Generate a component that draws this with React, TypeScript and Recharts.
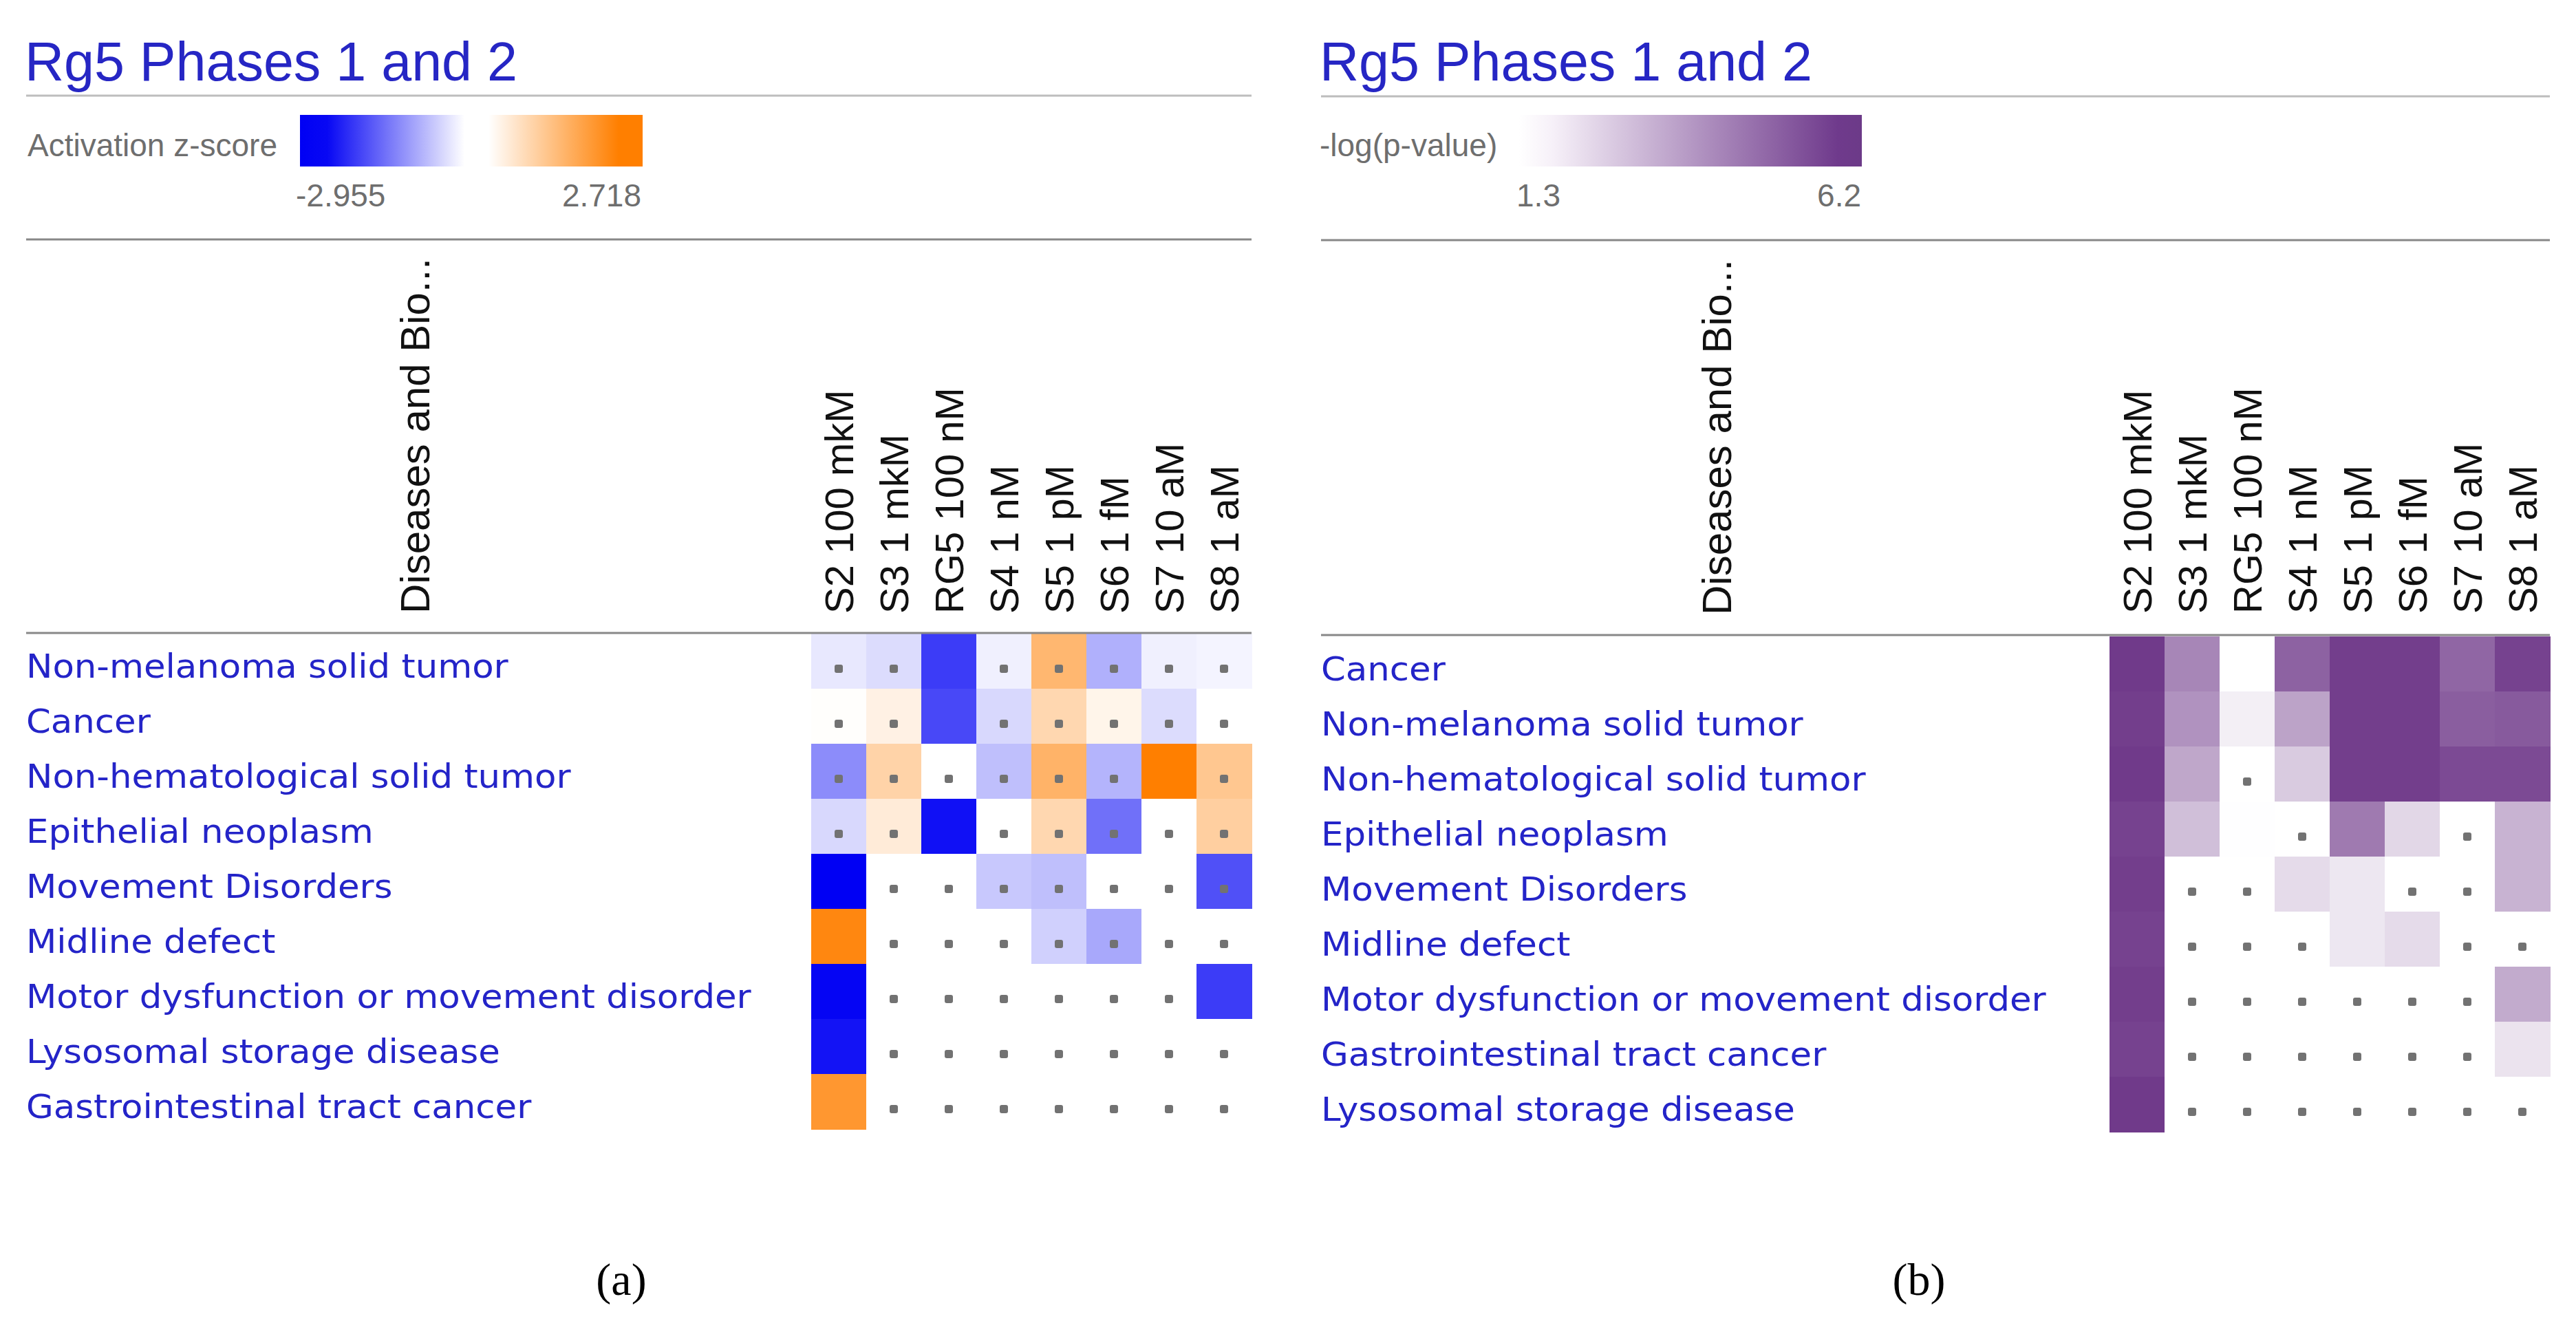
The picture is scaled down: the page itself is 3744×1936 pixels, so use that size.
import React from 'react';
import { ScatterChart, Scatter, XAxis, YAxis } from 'recharts';

// sample columns (same for both heatmaps)
const columns = ['S2 100 mkM', 'S3 1 mkM', 'RG5 100 nM', 'S4 1 nM', 'S5 1 pM', 'S6 1 fM', 'S7 10 aM', 'S8 1 aM'];

// (a) activation z-score
const rowsA = [
  'Non-melanoma solid tumor',
  'Cancer',
  'Non-hematological solid tumor',
  'Epithelial neoplasm',
  'Movement Disorders',
  'Midline defect',
  'Motor dysfunction or movement disorder',
  'Lysosomal storage disease',
  'Gastrointestinal tract cancer',
];
const zScores = [
  [-0.27, -0.41, -2.26, -0.17, 1.52, -0.92, -0.17, -0.13],
  [0.03, 0.29, -2.12, -0.45, 0.84, 0.22, -0.41, 0],
  [-1.33, 0.93, 0, -0.74, 1.61, -0.87, 2.718, 1.18],
  [-0.45, 0.42, -2.77, 0, 0.84, -1.66, 0, 1.01],
  [-2.955, 0, 0, -0.64, -0.74, 0, 0, -2.03],
  [2.55, 0, 0, 0, -0.54, -1.01, 0, 0],
  [-2.9, 0, 0, 0, 0, 0, 0, -2.26],
  [-2.73, 0, 0, 0, 0, 0, 0, 0],
  [2.21, 0, 0, 0, 0, 0, 0, 0],
];
const zDots = [
  [1, 1, 0, 1, 1, 1, 1, 1],
  [1, 1, 0, 1, 1, 1, 1, 1],
  [1, 1, 1, 1, 1, 1, 0, 1],
  [1, 1, 0, 1, 1, 1, 1, 1],
  [0, 1, 1, 1, 1, 1, 1, 1],
  [0, 1, 1, 1, 1, 1, 1, 1],
  [0, 1, 1, 1, 1, 1, 1, 0],
  [0, 1, 1, 1, 1, 1, 1, 1],
  [0, 1, 1, 1, 1, 1, 1, 1],
];
const zRange = [-2.955, 2.718];
const zTickLabels = ['-2.955', '2.718'];

// (b) -log(p-value), null = not significant (dot)
const rowsB = [
  'Cancer',
  'Non-melanoma solid tumor',
  'Non-hematological solid tumor',
  'Epithelial neoplasm',
  'Movement Disorders',
  'Midline defect',
  'Motor dysfunction or movement disorder',
  'Gastrointestinal tract cancer',
  'Lysosomal storage disease',
];
const logP = [
  [6.2, 4.3, 1.3, 5.2, 6.1, 6.1, 5.1, 6.0],
  [6.1, 4.0, 1.7, 3.6, 6.1, 6.1, 5.3, 5.4],
  [6.2, 3.5, null, 2.6, 6.1, 6.1, 5.8, 5.8],
  [6.0, 2.9, 1.32, null, 4.6, 2.3, null, 3.2],
  [6.1, null, null, 2.2, 1.9, null, null, 3.2],
  [6.0, null, null, null, 1.9, 2.2, null, null],
  [6.1, null, null, null, null, null, null, 3.4],
  [6.0, null, null, null, null, null, null, 2.0],
  [6.2, null, null, null, null, null, null, null],
];
const pRange = [1.3, 6.2];
const pTickLabels = ['1.3', '6.2'];

const WHITE = [255, 255, 255];
const BLUE = [0, 0, 244];
const ORANGE = [255, 127, 0];
const PURPLE = [112, 58, 138];

const mix = (a: number[], b: number[], t: number) => {
  const k = Math.max(0, Math.min(1, t));
  return 'rgb(' + a.map((v, i) => Math.round(v + (b[i] - v) * k)).join(',') + ')';
};
const zColor = (z: number) => (z < 0 ? mix(WHITE, BLUE, z / zRange[0]) : mix(WHITE, ORANGE, z / zRange[1]));
const pColor = (v: number | null) => (v == null ? '#ffffff' : mix(WHITE, PURPLE, (v - pRange[0]) / (pRange[1] - pRange[0])));

type Cell = { x: number; y: number; fill: string; dot: boolean };

const cellsA: Cell[] = zScores.flatMap((row, i) =>
  row.map((z, j) => ({ x: j + 0.5, y: i + 0.5, fill: zColor(z), dot: zDots[i][j] === 1 }))
);
const cellsB: Cell[] = logP.flatMap((row, i) =>
  row.map((v, j) => ({ x: j + 0.5, y: i + 0.5, fill: pColor(v), dot: v == null }))
);

const SANS = 'Liberation Sans, Arial, sans-serif';
const LABEL_FONT = 'DejaVu Sans, sans-serif';

const makeShape = (cw: number, ch: number) => (props: any) => {
  const { cx, cy, payload } = props;
  return (
    <g>
      <rect x={cx - cw / 2} y={cy - ch / 2} width={cw + 0.5} height={ch + 0.5} fill={payload.fill} shapeRendering="crispEdges" />
      {payload.dot && <rect x={cx - 6} y={cy + 5} width={12} height={12} rx={3} fill="#727272" />}
    </g>
  );
};

interface PanelProps {
  left: number;
  width: number;
  height: number;
  axisTop: number;
  yAxisWidth: number;
  rightM: number;
  bottomM: number;
  labelX: number;
  rows: string[];
  cells: Cell[];
}

const HeatPanel = ({ left, width, height, axisTop, yAxisWidth, rightM, bottomM, labelX, rows, cells }: PanelProps) => {
  const cw = (width - yAxisWidth - rightM) / columns.length;
  const ch = (height - axisTop - bottomM) / rows.length;
  return (
    <div style={{ position: 'absolute', left, top: 0 }}>
      <ScatterChart width={width} height={height} margin={{ top: 0, right: rightM, bottom: bottomM, left: 0 }}>
        <XAxis
          type="number"
          dataKey="x"
          orientation="top"
          domain={[0, columns.length]}
          ticks={columns.map((_, i) => i + 0.5)}
          interval={0}
          height={axisTop}
          axisLine={false}
          tickLine={false}
          tick={(p: any) => (
            <text
              transform={`translate(${p.x + 21}, 892) rotate(-90)`}
              fontFamily={SANS}
              fontSize={58}
              fill="#111"
              textAnchor="start"
            >
              {columns[Math.floor(p.payload.value)]}
            </text>
          )}
        />
        <YAxis
          type="number"
          dataKey="y"
          domain={[0, rows.length]}
          reversed
          ticks={rows.map((_, i) => i + 0.5)}
          interval={0}
          width={yAxisWidth}
          axisLine={false}
          tickLine={false}
          tick={(p: any) => (
            <text
              transform={`translate(${labelX}, ${p.y + 24}) scale(1.07, 1)`}
              fontFamily={LABEL_FONT}
              fontSize={48}
              fill="#2424c8"
              textAnchor="start"
            >
              {rows[Math.floor(p.payload.value)]}
            </text>
          )}
        />
        <Scatter data={cells} shape={makeShape(cw, ch)} isAnimationActive={false} />
      </ScatterChart>
    </div>
  );
};

const Decor = () => (
  <svg width={3744} height={1936} style={{ position: 'absolute', left: 0, top: 0, pointerEvents: 'none' }}>
    <defs>
      <linearGradient id="zGrad" x1="0" x2="1" y1="0" y2="0">
        <stop offset="0" stopColor="#0000f4" />
        <stop offset="0.08" stopColor="#0808f4" />
        <stop offset="0.48" stopColor="#ffffff" />
        <stop offset="0.55" stopColor="#ffffff" />
        <stop offset="0.93" stopColor="#ff7f00" />
        <stop offset="1" stopColor="#ff7f00" />
      </linearGradient>
      <linearGradient id="pGrad" x1="0" x2="1" y1="0" y2="0">
        <stop offset="0" stopColor="#ffffff" />
        <stop offset="0.1" stopColor="#f6f0f8" />
        <stop offset="0.93" stopColor="#6f3a8c" />
        <stop offset="1" stopColor="#6c3a88" />
      </linearGradient>
    </defs>

    {/* panel (a) */}
    <text x={36} y={117} fontFamily={SANS} fontSize={79} fill="#2626c4">Rg5 Phases 1 and 2</text>
    <line x1={38} x2={1819} y1={139} y2={139} stroke="#bdbdbd" strokeWidth={3} />
    <text x={40} y={227} fontFamily={SANS} fontSize={46} fill="#6e6e6e">Activation z-score</text>
    <rect x={436} y={167} width={498} height={75} fill="url(#zGrad)" />
    <text x={430} y={300} fontFamily={SANS} fontSize={46} fill="#6e6e6e">{zTickLabels[0]}</text>
    <text x={932} y={300} fontFamily={SANS} fontSize={46} fill="#6e6e6e" textAnchor="end">{zTickLabels[1]}</text>
    <line x1={38} x2={1819} y1={348} y2={348} stroke="#888" strokeWidth={3} />
    <text transform="translate(624, 892) rotate(-90)" fontFamily={SANS} fontSize={60} fill="#111">Diseases and Bio...</text>
    <line x1={38} x2={1819} y1={920} y2={920} stroke="#888" strokeWidth={3} />
    <text x={903} y={1882} fontFamily="Liberation Serif, Times New Roman, serif" fontSize={66} fill="#000" textAnchor="middle">(a)</text>

    {/* panel (b) */}
    <text x={1918} y={117} fontFamily={SANS} fontSize={79} fill="#2626c4">Rg5 Phases 1 and 2</text>
    <line x1={1920} x2={3706} y1={140} y2={140} stroke="#bdbdbd" strokeWidth={3} />
    <text x={1918} y={227} fontFamily={SANS} fontSize={46} fill="#6e6e6e">-log(p-value)</text>
    <rect x={2208} y={167} width={498} height={75} fill="url(#pGrad)" />
    <text x={2236} y={300} fontFamily={SANS} fontSize={46} fill="#6e6e6e" textAnchor="middle">{pTickLabels[0]}</text>
    <text x={2705} y={300} fontFamily={SANS} fontSize={46} fill="#6e6e6e" textAnchor="end">{pTickLabels[1]}</text>
    <line x1={1920} x2={3706} y1={349} y2={349} stroke="#888" strokeWidth={3} />
    <text transform="translate(2516, 894) rotate(-90)" fontFamily={SANS} fontSize={60} fill="#111">Diseases and Bio...</text>
    <line x1={1920} x2={3706} y1={923} y2={923} stroke="#888" strokeWidth={3} />
    <text x={2789} y={1882} fontFamily="Liberation Serif, Times New Roman, serif" fontSize={66} fill="#000" textAnchor="middle">(b)</text>
  </svg>
);

export default function App() {
  return (
    <div style={{ position: 'absolute', left: 0, top: 0, width: 3744, height: 1936, background: '#fff', overflow: 'hidden' }}>
      <HeatPanel
        left={0}
        width={1830}
        height={1660}
        axisTop={921}
        yAxisWidth={1179}
        rightM={11}
        bottomM={19}
        labelX={38}
        rows={rowsA}
        cells={cellsA}
      />
      <HeatPanel
        left={1884}
        width={1832}
        height={1664}
        axisTop={925}
        yAxisWidth={1182}
        rightM={10}
        bottomM={19}
        labelX={36}
        rows={rowsB}
        cells={cellsB}
      />
      <Decor />
    </div>
  );
}
